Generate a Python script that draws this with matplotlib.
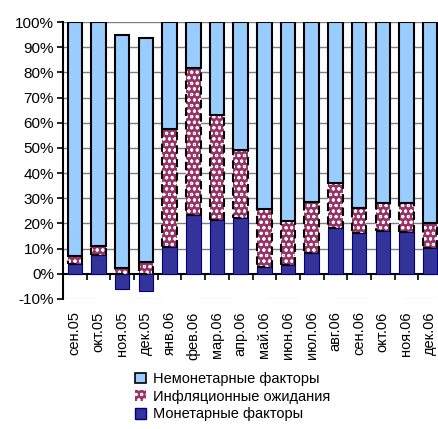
import matplotlib
matplotlib.use("Agg")
import matplotlib.pyplot as plt
from matplotlib.patches import Patch
import numpy as np

plt.rcParams['font.family'] = ['Liberation Sans', 'DejaVu Sans']
plt.rcParams['hatch.linewidth'] = 0.7

months = ["сен.05", "окт.05", "ноя.05", "дек.05", "янв.06", "фев.06", "мар.06", "апр.06",
          "май.06", "июн.06", "июл.06", "авг.06", "сен.06", "окт.06", "ноя.06", "дек.06"]

# contributions, % of total
monetary = [4.0, 7.5, -6.0, -6.7, 10.8, 23.4, 21.2, 22.1, 2.9, 3.6, 8.2, 18.0, 16.1, 17.1, 16.8, 10.2]
inflation_exp = [3.0, 3.5, 2.3, 4.5, 46.6, 58.2, 41.9, 27.1, 22.8, 17.4, 20.5, 18.0, 10.0, 10.9, 11.2, 9.9]
non_monetary = [93.0, 89.0, 92.5, 89.3, 42.6, 18.4, 36.9, 50.8, 74.3, 79.0, 71.3, 64.0, 73.9, 72.0, 72.0, 79.9]

series_names = ["Монетарные факторы", "Инфляционные ожидания", "Немонетарные факторы"]
y_ticks = list(range(-10, 101, 10))

c_dark = "#333399"
c_light = "#99CCFF"
c_hatch = "#993366"

x = np.arange(len(months))
mon = np.array(monetary)
inf = np.array(inflation_exp)
non = np.array(non_monetary)
# positive parts stack from zero, negative monetary values hang below it
base_inf = np.clip(mon, 0, None)
base_non = base_inf + inf

fig = plt.figure(figsize=(4.39, 4.29), dpi=100)
ax = fig.add_axes([63 / 439, 1 - 299 / 429, 379 / 439, 277 / 429])

w = 0.61
ax.bar(x, mon, width=w, color=c_dark, edgecolor="#000080", linewidth=0.8, zorder=3)
# patterned fill: maroon ground with white rings
ax.bar(x, inf, width=w, bottom=base_inf, color=c_hatch, edgecolor="white",
       hatch="ooo", linewidth=0, zorder=3)
ax.bar(x, inf, width=w, bottom=base_inf, fill=False, edgecolor="black",
       linewidth=1.5, linestyle=(0, (4, 2.5)), zorder=4)
ax.bar(x, non, width=w, bottom=base_non, color=c_light, edgecolor="black",
       linewidth=1.5, zorder=5)

ax.set_xlim(-0.5, len(months) - 0.5)
ax.set_ylim(-10, 100)
ax.set_yticks(y_ticks)
ax.set_yticklabels([f"{v}%" for v in y_ticks], fontsize=11)
for v in y_ticks[1:]:
    if v == 0:
        continue
    ax.axhline(v, color="#808080", linewidth=1.0, zorder=1)
ax.axhline(-10, color="#808080", linewidth=0.8, linestyle=(0, (30, 31)), zorder=1)

ax.spines["top"].set_visible(False)
ax.spines["right"].set_visible(False)
ax.spines["left"].set_linewidth(1.5)
ax.spines["bottom"].set_position(("data", 0))
ax.spines["bottom"].set_linewidth(1.5)

ax.set_xticks(x)
ax.set_xticklabels(months, rotation=90, fontsize=10.5)
ax.set_xticks(np.arange(len(months) + 1) - 0.5, minor=True)
ax.tick_params(axis="x", which="major", length=0, pad=27)
ax.tick_params(axis="x", which="minor", length=4, width=1.2, direction="out")
ax.tick_params(axis="y", length=4.5, width=1.2, direction="out", pad=2)

handles = [
    Patch(facecolor=c_light, edgecolor="black", linewidth=1.2),
    Patch(facecolor=c_hatch, edgecolor="white", hatch="ooo", linewidth=0),
    Patch(facecolor=c_dark, edgecolor="#000080", linewidth=1.0),
]
fig.legend(handles, series_names[::-1], loc="upper left",
           bbox_to_anchor=(135 / 439, 1 - 372 / 429), frameon=False,
           fontsize=10.5, handlelength=0.75, handleheight=0.75,
           handletextpad=0.5, labelspacing=0.25, borderaxespad=0, borderpad=0)

fig.savefig("out.png", dpi=100)
